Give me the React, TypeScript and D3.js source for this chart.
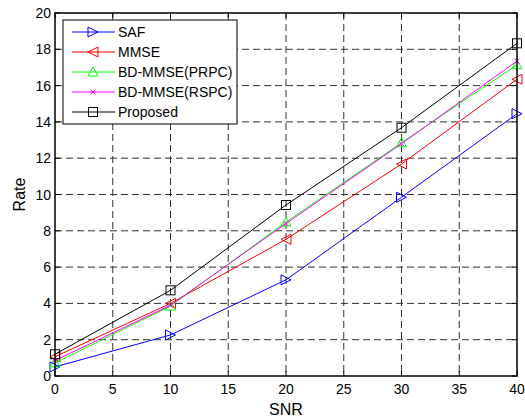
import React from "react";
import * as d3 from "d3";

const snr = [0, 10, 20, 30, 40];
const safRate = [0.5, 2.26, 5.3, 9.85, 14.45];
const mmseRate = [1.06, 4.0, 7.53, 11.68, 16.35];
const prpcRate = [0.72, 3.85, 8.48, 12.85, 17.15];
const rspcRate = [0.85, 3.9, 8.4, 12.8, 17.35];
const proposedRate = [1.2, 4.72, 9.42, 13.68, 18.33];
const xTicks = [0, 5, 10, 15, 20, 25, 30, 35, 40];
const yTicks = [0, 2, 4, 6, 8, 10, 12, 14, 16, 18, 20];

const seriesList = [
  { name: "SAF", values: safRate, color: "#0000ff", marker: "right" },
  { name: "MMSE", values: mmseRate, color: "#ff0000", marker: "left" },
  { name: "BD-MMSE(PRPC)", values: prpcRate, color: "#00ff00", marker: "up" },
  { name: "BD-MMSE(RSPC)", values: rspcRate, color: "#ff00ff", marker: "x" },
  { name: "Proposed", values: proposedRate, color: "#000000", marker: "square" },
];

const L = 55, R = 517, T = 13, B = 376;
const font = "Liberation Sans, Arial, sans-serif";

function Marker({ type, x, y, color }: { type: string; x: number; y: number; color: string }) {
  const s = 5;
  if (type === "right")
    return <polygon points={`${x - s},${y - s} ${x + s},${y} ${x - s},${y + s}`} fill="none" stroke={color} strokeWidth={1} />;
  if (type === "left")
    return <polygon points={`${x + s},${y - s} ${x - s},${y} ${x + s},${y + s}`} fill="none" stroke={color} strokeWidth={1} />;
  if (type === "up")
    return <polygon points={`${x - s},${y + s * 0.8} ${x},${y - s} ${x + s},${y + s * 0.8}`} fill="none" stroke={color} strokeWidth={1} />;
  if (type === "x")
    return (
      <g stroke={color} strokeWidth={1}>
        <line x1={x - 2.5} y1={y - 2.5} x2={x + 2.5} y2={y + 2.5} />
        <line x1={x - 2.5} y1={y + 2.5} x2={x + 2.5} y2={y - 2.5} />
      </g>
    );
  return <rect x={x - 4.5} y={y - 4.5} width={9} height={9} fill="none" stroke={color} strokeWidth={1} />;
}

export default function App() {
  const x = d3.scaleLinear().domain([0, 40]).range([L, R]);
  const y = d3.scaleLinear().domain([0, 20]).range([B, T]);
  const line = d3
    .line<number>()
    .x((_, i) => x(snr[i]))
    .y((d) => y(d));

  return (
    <svg width={525} height={417} style={{ position: "absolute", left: 0, top: 0 }} fontFamily={font}>
      <rect x={0} y={0} width={525} height={417} fill="#fff" />
      {/* grid */}
      <g stroke="#000" strokeWidth={1} strokeDasharray="7,4" opacity={0.8}>
        {xTicks.slice(1, -1).map((t) => (
          <line key={"gx" + t} x1={x(t)} x2={x(t)} y1={T} y2={B} />
        ))}
        {yTicks.slice(1, -1).map((t) => (
          <line key={"gy" + t} x1={L} x2={R} y1={y(t)} y2={y(t)} />
        ))}
      </g>
      {/* ticks */}
      <g stroke="#000" strokeWidth={1}>
        {xTicks.map((t) => (
          <g key={"tx" + t}>
            <line x1={x(t)} x2={x(t)} y1={B} y2={B - 5} />
            <line x1={x(t)} x2={x(t)} y1={T} y2={T + 5} />
          </g>
        ))}
        {yTicks.map((t) => (
          <g key={"ty" + t}>
            <line x1={L} x2={L + 5} y1={y(t)} y2={y(t)} />
            <line x1={R} x2={R - 5} y1={y(t)} y2={y(t)} />
          </g>
        ))}
      </g>
      {/* series */}
      {seriesList.map((s) => (
        <g key={s.name}>
          <path d={line(s.values) || ""} fill="none" stroke={s.color} strokeWidth={1} />
          {s.values.map((v, i) => (
            <Marker key={i} type={s.marker} x={x(snr[i])} y={y(v)} color={s.color} />
          ))}
        </g>
      ))}
      {/* axes box */}
      <rect x={L} y={T} width={R - L} height={B - T} fill="none" stroke="#000" strokeWidth={1.5} />
      {/* tick labels */}
      <g fontSize={14} fill="#000">
        {xTicks.map((t) => (
          <text key={"lx" + t} x={x(t)} y={B + 18} textAnchor="middle">
            {t}
          </text>
        ))}
        {yTicks.map((t) => (
          <text key={"ly" + t} x={L - 4} y={y(t) + 5} textAnchor="end">
            {t}
          </text>
        ))}
      </g>
      <text x={(L + R) / 2} y={415} textAnchor="middle" fontSize={16}>
        SNR
      </text>
      <text transform={`translate(25,${(T + B) / 2}) rotate(-90)`} textAnchor="middle" fontSize={16}>
        Rate
      </text>
      {/* legend */}
      <g>
        <rect x={63} y={20} width={174} height={104} fill="#fff" stroke="#000" strokeWidth={1} />
        {seriesList.map((s, i) => {
          const ly = 32 + i * 20;
          return (
            <g key={"lg" + s.name}>
              <line x1={72} x2={115} y1={ly} y2={ly} stroke={s.color} strokeWidth={1} />
              <Marker type={s.marker} x={93} y={ly} color={s.color} />
              <text x={118} y={ly + 5} fontSize={14} fill="#000">
                {s.name}
              </text>
            </g>
          );
        })}
      </g>
    </svg>
  );
}
